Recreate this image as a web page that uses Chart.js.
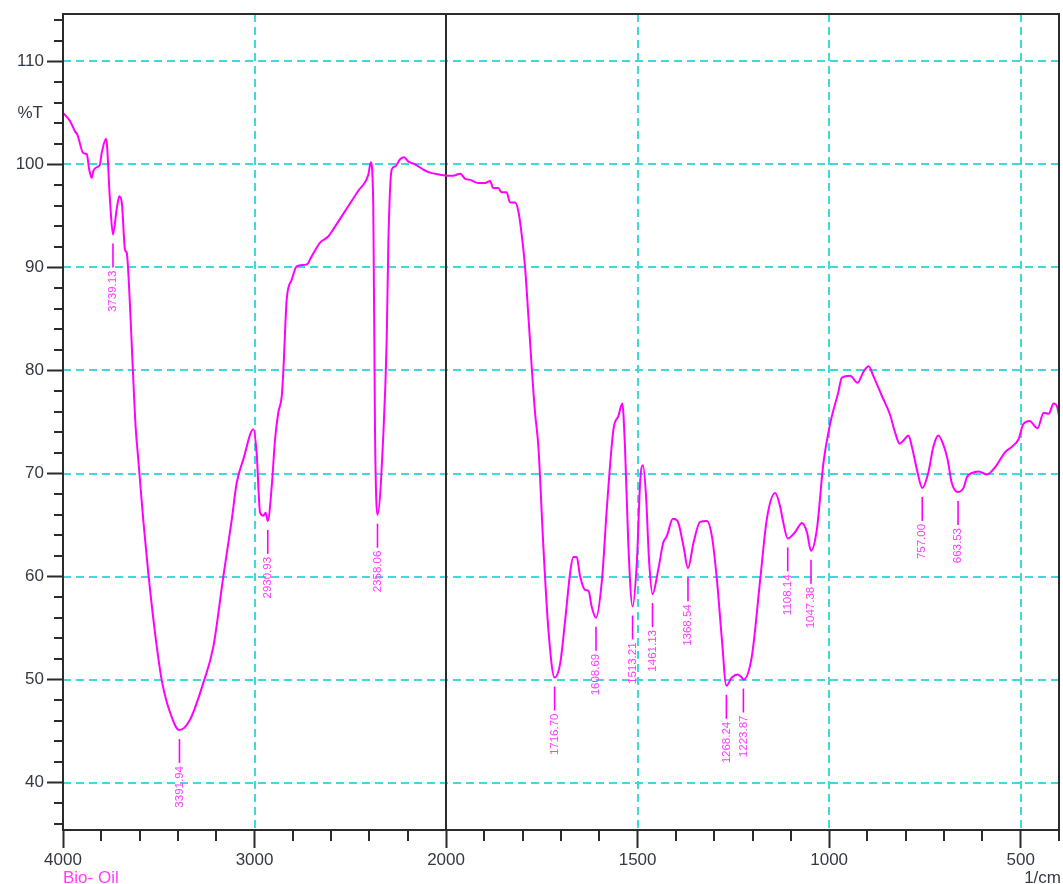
<!DOCTYPE html>
<html>
<head>
<meta charset="utf-8">
<title>Bio- Oil FTIR</title>
<script src="https://cdn.jsdelivr.net/npm/chart.js@4.4.1/dist/chart.umd.min.js"></script>
<style>
  html, body { margin: 0; padding: 0; background: #fff; }
  #wrap { width: 1063px; height: 884px; position: relative; }
</style>
</head>
<body>
<div id="wrap"><canvas id="c"></canvas></div>
<script>
// Spectrum: wavenumber (1/cm) and transmittance (%T)
const wavenumbers = [
  4000, 3963, 3937, 3925, 3894, 3876, 3863, 3850, 3842, 3816, 3807, 3798, 3775, 3755,
  3739.13, 3720, 3706, 3693, 3676, 3667, 3650, 3636, 3621, 3607, 3581, 3555, 3520, 3485,
  3441, 3391.94, 3337, 3267, 3215, 3163, 3119, 3093, 3058, 3006, 2989, 2971, 2954, 2942,
  2930.93, 2910, 2893, 2876, 2858, 2850, 2832, 2806, 2780, 2727, 2701, 2658, 2615, 2589,
  2540, 2460, 2406, 2393, 2380, 2371, 2358.06, 2327, 2310, 2301, 2284, 2266, 2240, 2219, 2198, 2162,
  2119, 2084, 2031, 1998, 1982, 1963, 1950, 1937, 1916, 1898, 1885, 1877, 1864, 1855,
  1842, 1833, 1820, 1811, 1802, 1794, 1785, 1776, 1768, 1759, 1746, 1733, 1716.70, 1702,
  1689, 1676, 1668, 1659, 1650, 1637, 1628, 1620, 1608.69, 1593, 1580, 1563, 1550, 1540,
  1533, 1524, 1513.21, 1502, 1493, 1486, 1478, 1470, 1461.13, 1446, 1433, 1424, 1408, 1396,
  1380, 1368.54, 1354, 1337, 1319, 1306, 1293, 1280, 1268.24, 1254, 1239, 1228, 1223.87, 1202,
  1180, 1163, 1141, 1128, 1120, 1108.14, 1089, 1071, 1058, 1047.38, 1032, 1015, 997, 976,
  967, 945, 926, 910, 897, 884, 862, 841, 828, 816, 806, 793, 784, 771,
  757.00, 741, 728, 715, 702, 691, 680, 663.53, 648, 641, 623, 610, 588, 567,
  540, 523, 506, 493, 477, 456, 440, 427, 414, 405, 400
];
const transmittance = [
  105.0, 104.2, 103.2, 102.9, 101.1, 101.0, 99.5, 98.7, 99.35, 99.8, 100.0, 101.1, 102.5, 96.6,
  93.2, 95.6, 96.9, 96.3, 91.7, 91.4, 86.2, 80.4, 74.6, 71.4, 65.5, 60.4, 54.6, 50.0,
  46.8, 45.1, 46.1, 49.7, 53.2, 60.0, 65.5, 69.1, 71.4, 74.3, 72.0, 66.2, 65.9, 66.2,
  65.4, 68.8, 73.3, 75.9, 77.5, 79.8, 86.9, 88.8, 90.1, 90.3, 91.1, 92.4, 93.0, 93.7,
  95.1, 97.4, 99.0, 100.2, 95.9, 74.0, 66.0, 74.0, 83.0, 92.7, 99.5, 99.8, 100.5, 100.7, 100.3, 100.0,
  99.5, 99.2, 99.0, 98.9, 98.9, 99.1, 98.6, 98.5, 98.2, 98.2, 98.4, 97.7, 97.7, 97.3,
  97.3, 96.3, 96.3, 95.4, 93.0, 90.1, 85.2, 80.1, 76.0, 72.6, 62.9, 54.9, 50.2, 51.6,
  55.8, 60.4, 61.9, 61.9, 60.0, 58.7, 58.6, 57.1, 56.0, 59.7, 66.8, 74.3, 75.6, 76.8,
  72.6, 62.9, 57.1, 61.4, 69.4, 70.8, 67.8, 61.5, 58.3, 60.7, 63.3, 63.9, 65.6, 65.4,
  62.9, 60.8, 63.3, 65.3, 65.4, 63.9, 59.7, 53.9, 49.4, 50.2, 50.5, 50.2, 50.0, 52.2,
  59.7, 65.5, 68.1, 66.8, 65.3, 63.7, 64.3, 65.2, 64.3, 62.5, 64.6, 71.0, 74.9, 77.9,
  79.3, 79.5, 78.8, 79.9, 80.4, 79.4, 77.5, 75.7, 74.0, 72.9, 73.2, 73.7, 72.6, 70.4,
  68.6, 70.1, 72.6, 73.7, 72.8, 71.4, 69.1, 68.2, 68.7, 69.6, 70.1, 70.2, 69.9, 70.6,
  72.1, 72.6, 73.3, 74.8, 75.1, 74.4, 75.9, 75.8, 76.8, 76.5, 75.6
];

// Labelled absorption bands
const peakWavenumbers = [
  3739.13, 3391.94, 2930.93, 2358.06, 1716.70, 1608.69, 1513.21, 1461.13,
  1368.54, 1268.24, 1223.87, 1108.14, 1047.38, 757.00, 663.53
];

// Axis ticks
const xMajorTicks = [4000, 3000, 2000, 1500, 1000, 500];
const xMinorTicks = [3800, 3600, 3400, 3200, 2800, 2600, 2400, 2200,
  1900, 1800, 1700, 1600, 1400, 1300, 1200, 1100, 900, 800, 700, 600, 400];
const yMajorTicks = [40, 50, 60, 70, 80, 90, 100, 110];
const yMinorTicks = [36, 38, 42, 44, 46, 48, 52, 54, 56, 58, 62, 64, 66, 68, 72, 74, 76, 78,
  82, 84, 86, 88, 92, 94, 96, 98, 102, 104, 106, 108, 112, 114];

const SAMPLE = 'Bio- Oil';
const X_UNIT = '1/cm';
const Y_UNIT = '%T';

const MAGENTA = '#ff00ff';
const LABEL_MAGENTA = '#ff3cff';
const GRID_CYAN = '#3fd9d9';
const AXIS_INK = '#2b2b2b';
const TEXT_INK = '#343944';
const FONT = '"Liberation Sans", Arial, Helvetica, sans-serif';

// Wavenumber axis: 4000–2000 is drawn at half the scale of 2000–400.
function toU(w) { return w >= 2000 ? (4000 - w) / 2 : 1000 + (2000 - w); }
function fromU(u) { return u <= 1000 ? 4000 - 2 * u : 3000 - u; }

class SplitWavenumberScale extends Chart.LinearScale {
  getPixelForValue(value) {
    const u0 = toU(this.max), u1 = toU(this.min);
    return this.getPixelForDecimal((toU(value) - u0) / (u1 - u0));
  }
  getValueForPixel(pixel) {
    const u0 = toU(this.max), u1 = toU(this.min);
    return fromU(u0 + this.getDecimalForPixel(pixel) * (u1 - u0));
  }
}
SplitWavenumberScale.id = 'splitWavenumber';
SplitWavenumberScale.defaults = {};
Chart.register(SplitWavenumberScale);

Chart.defaults.font.family = FONT;

function hLine(ctx, x0, x1, y) { ctx.beginPath(); ctx.moveTo(x0, y); ctx.lineTo(x1, y); ctx.stroke(); }
function vLine(ctx, x, y0, y1) { ctx.beginPath(); ctx.moveTo(x, y0); ctx.lineTo(x, y1); ctx.stroke(); }

const spectrumDecor = {
  id: 'spectrumDecor',
  beforeDatasetsDraw(chart) {
    const { ctx, chartArea: a, scales: { x, y } } = chart;
    ctx.save();
    ctx.strokeStyle = GRID_CYAN;
    ctx.lineWidth = 2;
    ctx.setLineDash([8, 5]);
    for (const v of yMajorTicks) hLine(ctx, a.left, a.right, Math.round(y.getPixelForValue(v)));
    for (const w of xMajorTicks) {
      if (w === 4000 || w === 2000) continue;
      vLine(ctx, Math.round(x.getPixelForValue(w)), a.top, a.bottom);
    }
    ctx.setLineDash([]);
    // scale break at 2000
    ctx.strokeStyle = AXIS_INK;
    vLine(ctx, Math.round(x.getPixelForValue(2000)), a.top, a.bottom);
    ctx.restore();
  },
  afterDraw(chart) {
    const { ctx, chartArea: a, scales: { x, y } } = chart;
    ctx.save();
    // frame
    ctx.strokeStyle = AXIS_INK;
    ctx.lineWidth = 2;
    ctx.strokeRect(a.left, a.top, a.right - a.left, a.bottom - a.top);
    // minor tick marks
    for (const v of yMinorTicks) {
      const py = Math.round(y.getPixelForValue(v));
      hLine(ctx, a.left - 9, a.left, py);
    }
    for (const w of xMinorTicks) {
      const px = Math.round(x.getPixelForValue(w));
      vLine(ctx, px, a.bottom, a.bottom + 11);
    }
    // band labels
    ctx.strokeStyle = MAGENTA;
    ctx.lineWidth = 1.6;
    ctx.fillStyle = LABEL_MAGENTA;
    ctx.font = '11.5px ' + FONT;
    ctx.textAlign = 'right';
    ctx.textBaseline = 'middle';
    for (const w of peakWavenumbers) {
      const i = wavenumbers.indexOf(w);
      const px = x.getPixelForValue(w);
      const py = y.getPixelForValue(transmittance[i]);
      vLine(ctx, px, py + 9, py + 33);
      ctx.save();
      ctx.translate(px, py + 36);
      ctx.rotate(-Math.PI / 2);
      ctx.fillText(w.toFixed(2), 0, 0);
      ctx.restore();
    }
    // captions
    ctx.font = '17px ' + FONT;
    ctx.textBaseline = 'middle';
    ctx.fillStyle = TEXT_INK;
    ctx.textAlign = 'right';
    ctx.fillText(Y_UNIT, 43, y.getPixelForValue(105));
    ctx.fillText(X_UNIT, 1061, 878);
    ctx.textAlign = 'left';
    ctx.fillStyle = LABEL_MAGENTA;
    ctx.fillText(SAMPLE, 63, 878);
    ctx.restore();
  }
};

new Chart(document.getElementById('c'), {
  type: 'line',
  data: {
    datasets: [{
      data: wavenumbers.map((w, i) => ({ x: w, y: transmittance[i] })),
      borderColor: MAGENTA,
      borderWidth: 2,
      pointRadius: 0,
      cubicInterpolationMode: 'monotone',
      fill: false
    }]
  },
  options: {
    responsive: true,
    maintainAspectRatio: false,
    animation: false,
    events: [],
    layout: { padding: { top: 14, right: 4, left: 0, bottom: 0 } },
    plugins: { legend: { display: false }, tooltip: { enabled: false } },
    scales: {
      x: {
        type: 'splitWavenumber',
        min: 400,
        max: 4000,
        afterBuildTicks(scale) { scale.ticks = xMajorTicks.map(v => ({ value: v })); },
        afterFit(scale) { scale.height = 54; },
        ticks: {
          autoSkip: false, maxRotation: 0, minRotation: 0, padding: 2,
          color: TEXT_INK, font: { size: 17 },
          callback: v => String(v)
        },
        grid: {
          display: true, drawOnChartArea: false, drawTicks: true,
          tickLength: 18, tickWidth: 2, tickColor: AXIS_INK, color: AXIS_INK
        },
        border: { display: false }
      },
      y: {
        type: 'linear',
        min: 35.4,
        max: 114.6,
        afterBuildTicks(scale) { scale.ticks = yMajorTicks.map(v => ({ value: v })); },
        afterFit(scale) { scale.width = 63; },
        ticks: {
          autoSkip: false, padding: 3,
          color: TEXT_INK, font: { size: 17 },
          callback: v => String(v)
        },
        grid: {
          display: true, drawOnChartArea: false, drawTicks: true,
          tickLength: 16, tickWidth: 2, tickColor: AXIS_INK, color: AXIS_INK
        },
        border: { display: false }
      }
    }
  },
  plugins: [spectrumDecor]
});
</script>
</body>
</html>
